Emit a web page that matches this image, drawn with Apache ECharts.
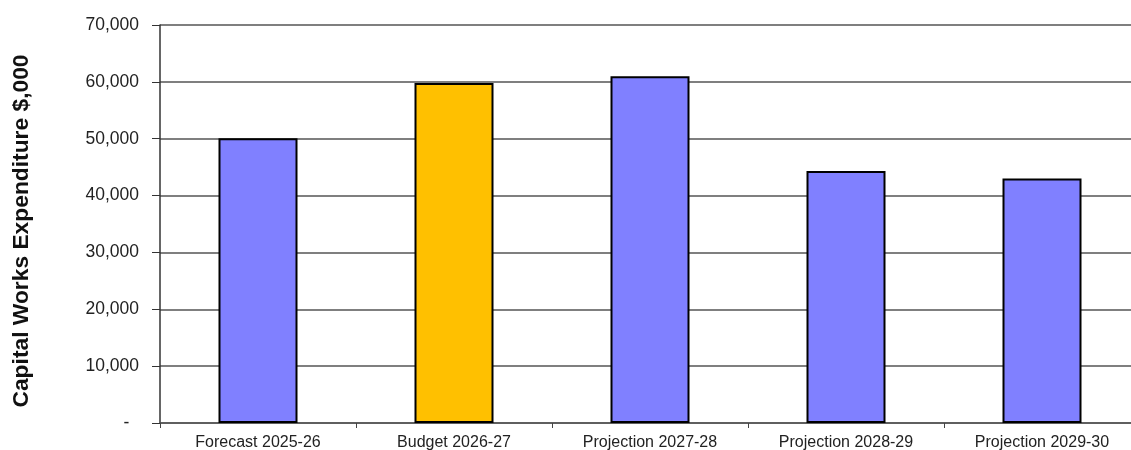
<!DOCTYPE html>
<html>
<head>
<meta charset="utf-8">
<script src="https://cdn.jsdelivr.net/npm/echarts@6/dist/echarts.min.js"></script>
<style>
  html, body { margin: 0; padding: 0; background: #fff; }
  #chart { width: 1131px; height: 450px; }
</style>
</head>
<body>
<div id="chart"></div>
<script>
// Capital works expenditure by year ($,000)
const categories = ['Forecast 2025-26', 'Budget 2026-27', 'Projection 2027-28', 'Projection 2028-29', 'Projection 2029-30'];
const expenditure = [50100, 59800, 61000, 44300, 43000];
const barColors = ['#8080FF', '#FFC000', '#8080FF', '#8080FF', '#8080FF'];
const yAxisTitle = 'Capital Works Expenditure $,000';

const chart = echarts.init(document.getElementById('chart'), null, { renderer: 'canvas' });

chart.setOption({
  animation: false,
  grid: { left: 160, top: 25, width: 980, height: 398, containLabel: false, outerBoundsMode: 'none' },
  xAxis: {
    type: 'category',
    data: categories,
    axisLine: { lineStyle: { color: '#555', width: 1.5 } },
    axisTick: { show: true, length: 5, lineStyle: { color: '#444' } },
    axisLabel: { color: '#222', fontFamily: 'Liberation Sans, Arial, sans-serif', fontSize: 16, margin: 12 }
  },
  yAxis: {
    type: 'value',
    min: 0, max: 70000, interval: 10000,
    name: yAxisTitle,
    nameLocation: 'middle',
    nameGap: 127,
    nameTextStyle: {
      color: '#111', fontFamily: 'Liberation Sans, Arial, sans-serif', fontSize: 22.8, fontWeight: 'bold',
      padding: [0, 14, 0, 0]
    },
    axisLine: { show: true, lineStyle: { color: '#333', width: 1.5 } },
    axisTick: { show: true, length: 8, lineStyle: { color: '#333' } },
    splitLine: { lineStyle: { color: '#555', width: 1.5 } },
    axisLabel: {
      color: '#222', fontFamily: 'Liberation Sans, Arial, sans-serif', fontSize: 17.5, margin: 21,
      formatter: v => v === 0 ? '-  ' : v.toLocaleString('en-US')
    }
  },
  series: [{
    type: 'bar',
    data: expenditure.map((v, i) => ({ value: v, itemStyle: { color: barColors[i] } })),
    barWidth: 79,
    itemStyle: { borderColor: '#000', borderWidth: 2 }
  }]
});
</script>
</body>
</html>
